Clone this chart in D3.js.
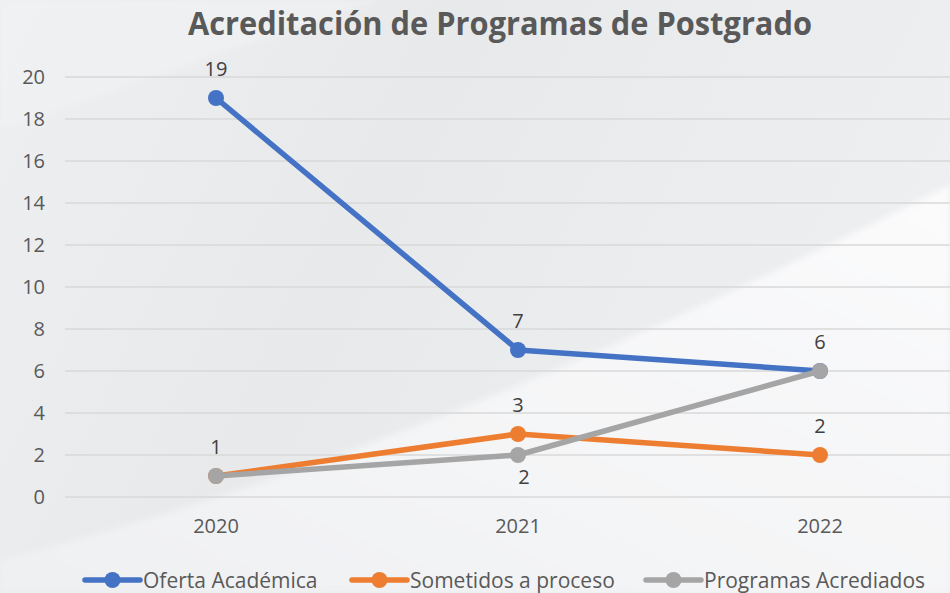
<!DOCTYPE html>
<html>
<head>
<meta charset="utf-8">
<script src="https://cdn.jsdelivr.net/npm/d3@7"></script>
<style>
  body { margin: 0; overflow: hidden; }
  svg text { font-family: "Open Sans", sans-serif; }
</style>
</head>
<body>
<svg id="chart"></svg>
<script>
// chart data
const years = ['2020', '2021', '2022'];
const ofertaAcademica = [19, 7, 6];
const sometidosProceso = [1, 3, 2];
const programasAcreditados = [1, 2, 6];
const yTicks = [0, 2, 4, 6, 8, 10, 12, 14, 16, 18, 20];
const seriesNames = ['Oferta Académica', 'Sometidos a proceso', 'Programas Acrediados'];
// which data labels are shown, and where
const labelPlacement = [
    ['above', 'above', 'above'],
    ['above', 'above', 'above'],
    [null, 'below', null]
];

const width = 950, height = 593;
const margin = { top: 77, right: -21, bottom: 96, left: 65 };
const colors = ['#4472C4', '#ED7D31', '#A5A5A5'];

const svg = d3.select('#chart')
    .attr('width', width)
    .attr('height', height);

// background
const defs = svg.append('defs');
const bgGrad = defs.append('linearGradient')
    .attr('id', 'bg')
    .attr('x1', '0').attr('y1', '0').attr('x2', '1').attr('y2', '0.3');
bgGrad.append('stop').attr('offset', '0%').attr('stop-color', '#eeeff0');
bgGrad.append('stop').attr('offset', '45%').attr('stop-color', '#e8e9eb');
bgGrad.append('stop').attr('offset', '100%').attr('stop-color', '#eeeff1');
const swGrad = defs.append('linearGradient')
    .attr('id', 'swoosh')
    .attr('x1', '0').attr('y1', '1').attr('x2', '1').attr('y2', '0');
swGrad.append('stop').attr('offset', '0%').attr('stop-color', '#eff0f2');
swGrad.append('stop').attr('offset', '100%').attr('stop-color', '#fbfbfc');
defs.append('filter').attr('id', 'soft')
    .append('feGaussianBlur').attr('stdDeviation', 3);

svg.append('rect')
    .attr('width', width).attr('height', height)
    .attr('fill', 'url(#bg)');
svg.append('path')
    .attr('d', 'M0,560 Q420,455 950,185 L950,593 L0,593 Z')
    .attr('fill', 'url(#swoosh)')
    .attr('filter', 'url(#soft)');
svg.append('path')
    .attr('d', 'M0,0 L380,0 Q200,60 0,130 Z')
    .attr('fill', '#f1f2f3')
    .attr('opacity', 0.7)
    .attr('filter', 'url(#soft)');

const chart = svg.append('g')
    .attr('transform', `translate(${margin.left},${margin.top})`);
const innerW = width - margin.left - margin.right;
const innerH = height - margin.top - margin.bottom;

const xScale = d3.scaleBand()
    .domain(years)
    .range([0, innerW]);
const yScale = d3.scaleLinear()
    .domain([0, 20])
    .range([innerH, 0]);

// gridlines
chart.selectAll('.grid')
    .data(yTicks)
    .join('line')
    .attr('class', 'grid')
    .attr('x1', 0).attr('x2', innerW)
    .attr('y1', d => yScale(d)).attr('y2', d => yScale(d))
    .attr('stroke', '#d9d9d9')
    .attr('stroke-width', 1.5);

// axes
const yAxis = d3.axisLeft(yScale)
    .tickValues(yTicks)
    .tickSize(0)
    .tickPadding(20);
const yAxisG = chart.append('g').call(yAxis);
yAxisG.select('.domain').remove();
yAxisG.selectAll('text')
    .attr('fill', '#595959')
    .style('font-size', '20px')
    .style('font-family', '"Open Sans", sans-serif');

const xAxis = d3.axisBottom(xScale)
    .tickSize(0)
    .tickPadding(22);
const xAxisG = chart.append('g')
    .attr('transform', `translate(0,${innerH})`)
    .call(xAxis);
xAxisG.select('.domain').remove();
xAxisG.selectAll('text')
    .attr('fill', '#595959')
    .style('font-size', '20px')
    .style('font-family', '"Open Sans", sans-serif');

// lines
const allSeries = [ofertaAcademica, sometidosProceso, programasAcreditados];
const xPos = i => xScale(years[i]) + xScale.bandwidth() / 2;
const line = d3.line()
    .x((d, i) => xPos(i))
    .y(d => yScale(d));

allSeries.forEach((values, s) => {
    chart.append('path')
        .datum(values)
        .attr('d', line)
        .attr('fill', 'none')
        .attr('stroke', colors[s])
        .attr('stroke-width', 5.5)
        .attr('stroke-linejoin', 'round');
    chart.selectAll('.pt' + s)
        .data(values)
        .join('circle')
        .attr('class', 'pt' + s)
        .attr('cx', (d, i) => xPos(i))
        .attr('cy', d => yScale(d))
        .attr('r', 8)
        .attr('fill', colors[s]);
});

// data labels
allSeries.forEach((values, s) => {
    values.forEach((v, i) => {
        const place = labelPlacement[s][i];
        if (!place) return;
        chart.append('text')
            .attr('x', xPos(i) + (place === 'below' ? 6 : 0))
            .attr('y', yScale(v) + (place === 'below' ? 29 : -22))
            .attr('text-anchor', 'middle')
            .attr('fill', '#404040')
            .style('font-size', '20px')
            .text(v);
    });
});

// title
svg.append('text')
    .attr('x', 500)
    .attr('y', 35)
    .attr('text-anchor', 'middle')
    .attr('fill', '#595959')
    .attr('textLength', 624)
    .attr('lengthAdjust', 'spacingAndGlyphs')
    .style('font-size', '32px')
    .style('font-weight', 'bold')
    .text('Acreditación de Programas de Postgrado');

// legend
const legendX = [85, 352, 646];
const legend = svg.selectAll('.legend-item')
    .data(seriesNames)
    .join('g')
    .attr('class', 'legend-item')
    .attr('transform', (d, i) => `translate(${legendX[i]},580)`);
legend.append('line')
    .attr('x1', 0).attr('x2', 55)
    .attr('stroke', (d, i) => colors[i])
    .attr('stroke-width', 5.5)
    .attr('stroke-linecap', 'round');
legend.append('circle')
    .attr('cx', 27.5)
    .attr('r', 8)
    .attr('fill', (d, i) => colors[i]);
legend.append('text')
    .attr('x', 58)
    .attr('y', 8)
    .attr('fill', '#595959')
    .style('font-size', '21px')
    .text(d => d);
</script>
</body>
</html>
